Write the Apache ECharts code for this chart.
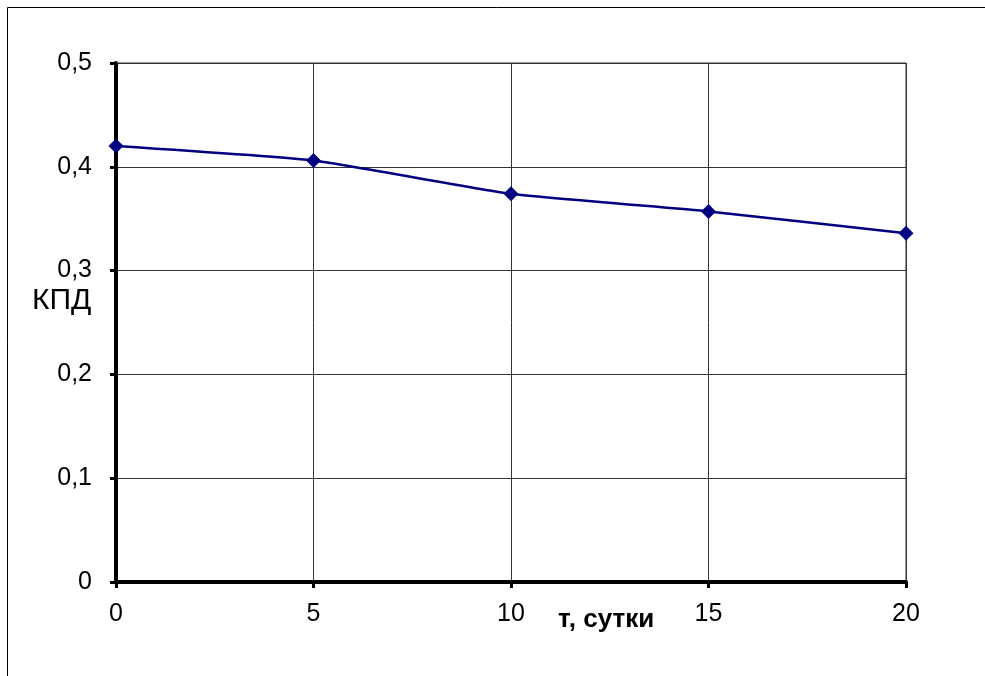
<!DOCTYPE html>
<html>
<head>
<meta charset="utf-8">
<script src="https://cdn.jsdelivr.net/npm/echarts@6/dist/echarts.min.js"></script>
<style>html,body{margin:0;padding:0;background:#fff}#c{width:985px;height:676px}</style>
</head>
<body>
<div id="c"></div>
<script>
const days = [0, 5, 10, 15, 20];
const efficiency = [0.420, 0.406, 0.374, 0.357, 0.336];
const yTicks = [0, 0.1, 0.2, 0.3, 0.4, 0.5];
const xTicks = [0, 5, 10, 15, 20];
const yTitle = 'КПД';
const xTitle = 'т, сутки';

const chart = echarts.init(document.getElementById('c'), null, {renderer: 'canvas'});
const font = '"Liberation Sans", Arial, sans-serif';
chart.setOption({
  animation: false,
  backgroundColor: '#fff',
  grid: {left: 116, right: 79, top: 63, bottom: 94, show: false},
  xAxis: {
    type: 'value', min: 0, max: 20, interval: 5,
    axisLine: {show: true, onZero: false, lineStyle: {color: '#000', width: 4}},
    axisTick: {show: true, length: 6, lineStyle: {color: '#000', width: 3}},
    axisLabel: {color: '#000', fontSize: 25, fontFamily: font, margin: 20,
      formatter: v => String(v)},
    splitLine: {show: true, lineStyle: {color: '#333', width: 1}}
  },
  yAxis: {
    type: 'value', min: 0, max: 0.5, interval: 0.1,
    axisLine: {show: true, onZero: false, lineStyle: {color: '#000', width: 4}},
    axisTick: {show: true, length: 6, lineStyle: {color: '#000', width: 3}},
    axisLabel: {color: '#000', fontSize: 25, fontFamily: font, margin: 24,
      formatter: v => (Math.round(v * 10) / 10).toString().replace('.', ',')},
    splitLine: {show: true, lineStyle: {color: '#333', width: 1}}
  },
  graphic: [
    {type: 'rect', shape: {x: 7.5, y: 7.5, width: 1100, height: 800}, style: {fill: 'none', stroke: '#000', lineWidth: 1}, z: 100},
    {type: 'line', shape: {x1: 116, y1: 63, x2: 906, y2: 63}, style: {stroke: '#333', lineWidth: 1}, z: 1},
    {type: 'line', shape: {x1: 906, y1: 63, x2: 906, y2: 582}, style: {stroke: '#333', lineWidth: 1}, z: 1},
    {type: 'text', left: 32, top: 286, style: {text: yTitle, font: '30px ' + font, fill: '#000'}},
    {type: 'text', left: 558, top: 607, style: {text: xTitle, font: 'bold 26px ' + font, fill: '#000'}}
  ],
  series: [{
    type: 'line',
    data: days.map((d, i) => [d, efficiency[i]]),
    smooth: 0.15,
    symbol: 'diamond', symbolSize: 15,
    lineStyle: {color: '#000080', width: 2.5},
    itemStyle: {color: '#000080'},
    z: 5
  }]
});
</script>
</body>
</html>
